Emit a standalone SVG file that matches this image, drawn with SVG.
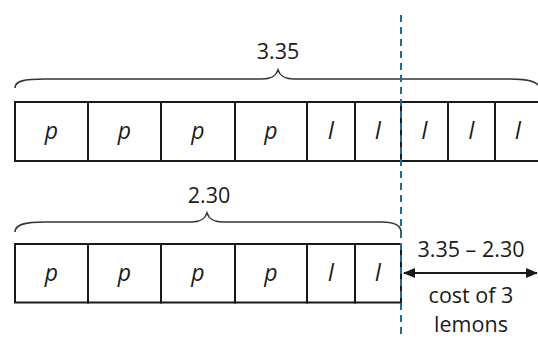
<svg xmlns="http://www.w3.org/2000/svg" width="538" height="338" viewBox="0 0 538 338">
<defs>
<style>
.box{fill:#fff;stroke:#1a1a1a;stroke-width:2}
.var{font-family:"Open Sans","Liberation Sans",sans-serif;font-style:italic;font-size:23px;fill:#1a1a1a;text-anchor:middle}
.lbl{font-family:"Open Sans","Liberation Sans",sans-serif;font-size:21.5px;fill:#1a1a1a;text-anchor:middle}
.brace{fill:none;stroke:#333;stroke-width:1.6}
.dash{stroke:#1d6f8f;stroke-width:2;stroke-dasharray:7 5;fill:none}
.arrow{stroke:#1a1a1a;stroke-width:2;fill:none}
</style>
<marker id="ah" viewBox="0 0 12 10" refX="11" refY="5" markerWidth="12" markerHeight="10" markerUnits="userSpaceOnUse" orient="auto-start-reverse">
<path d="M0,0 L12,5 L0,10 Z" fill="#1a1a1a"/>
</marker>
</defs>
<rect width="538" height="338" fill="#fff"/>

<g id="row1">
<g id="r1c1"><rect class="box" x="15" y="102" width="73" height="59"/><text class="var" x="51.5" y="139">p</text></g>
<g id="r1c2"><rect class="box" x="88" y="102" width="73" height="59"/><text class="var" x="124.5" y="139">p</text></g>
<g id="r1c3"><rect class="box" x="161" y="102" width="74" height="59"/><text class="var" x="198" y="139">p</text></g>
<g id="r1c4"><rect class="box" x="235" y="102" width="72" height="59"/><text class="var" x="271" y="139">p</text></g>
<g id="r1c5"><rect class="box" x="307" y="102" width="48" height="59"/><text class="var" x="331" y="139">l</text></g>
<g id="r1c6"><rect class="box" x="355" y="102" width="46" height="59"/><text class="var" x="378" y="139">l</text></g>
<g id="r1c7"><rect class="box" x="401" y="102" width="47" height="59"/><text class="var" x="424.5" y="139">l</text></g>
<g id="r1c8"><rect class="box" x="448" y="102" width="47" height="59"/><text class="var" x="471.5" y="139">l</text></g>
<g id="r1c9"><rect class="box" x="495" y="102" width="47" height="59"/><text class="var" x="518" y="139">l</text></g>
</g>

<g id="row2">
<g id="r2c1"><rect class="box" x="15" y="244" width="73" height="58.5"/><text class="var" x="51.5" y="281">p</text></g>
<g id="r2c2"><rect class="box" x="88" y="244" width="73" height="58.5"/><text class="var" x="124.5" y="281">p</text></g>
<g id="r2c3"><rect class="box" x="161" y="244" width="74" height="58.5"/><text class="var" x="198" y="281">p</text></g>
<g id="r2c4"><rect class="box" x="235" y="244" width="72" height="58.5"/><text class="var" x="271" y="281">p</text></g>
<g id="r2c5"><rect class="box" x="307" y="244" width="48" height="58.5"/><text class="var" x="331" y="281">l</text></g>
<g id="r2c6"><rect class="box" x="355" y="244" width="46" height="58.5"/><text class="var" x="378" y="281">l</text></g>
</g>

<g id="brace1">
<path class="brace" d="M15,88 C15,81 24,79 45,79 L262,79 C272,79 276,76 278,70 C280,76 284,79 294,79 L510,79 C530,79 538,82 540,88"/>
<text class="lbl" x="278" y="59">3.35</text>
</g>
<g id="brace2">
<path class="brace" d="M15,232 C15,225 24,222 45,222 L191,222 C201,222 205,219 207,213 C209,219 213,222 223,222 L381,222 C395,222 401,225 401,232"/>
<text class="lbl" x="209" y="203">2.30</text>
</g>

<g id="connectors">
<line class="dash" x1="401" y1="15" x2="401" y2="338"/>
<line class="arrow" x1="404" y1="273" x2="537" y2="273" marker-start="url(#ah)" marker-end="url(#ah)"/>
</g>

<g id="difference">
<text class="lbl" x="471" y="257">3.35 – 2.30</text>
<text class="lbl" x="471" y="303">cost of 3</text>
<text class="lbl" x="471" y="332">lemons</text>
</g>
</svg>
